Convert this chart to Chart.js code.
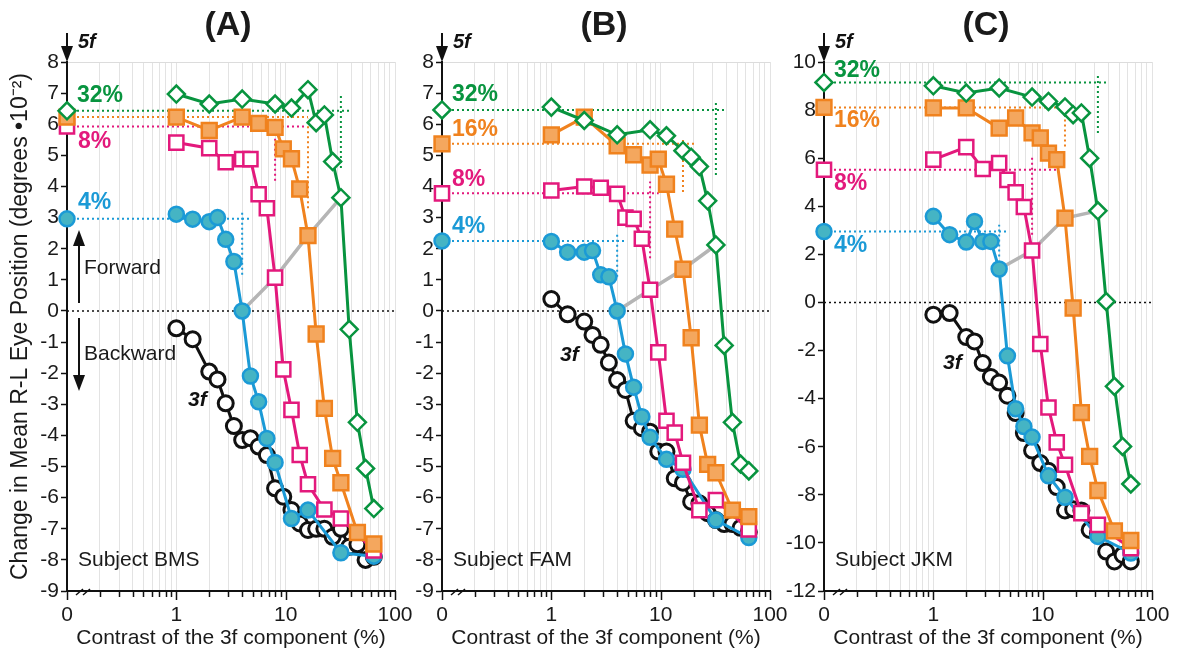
<!DOCTYPE html>
<html>
<head>
<meta charset="utf-8">
<script src="https://cdn.jsdelivr.net/npm/chart.js@4.4.1/dist/chart.umd.min.js"></script>
<style>
  body { margin: 0; background: #fff; }
  #wrap { position: relative; width: 1182px; height: 656px; }
  #wrap canvas { position: absolute; left: 0; top: 0; }
</style>
</head>
<body>
<div id="wrap">
  <canvas id="panel-a" width="1182" height="656"></canvas>
  <canvas id="panel-b" width="1182" height="656"></canvas>
  <canvas id="panel-c" width="1182" height="656"></canvas>
</div>
<script>
// contraste de la composante 3f (%) - positions communes des points
const contrast = [1, 1.41, 2, 2.38, 2.83, 3.36, 4, 4.76, 5.66, 6.73, 8, 9.51, 11.3, 13.45, 16, 19, 22.6, 26.9, 32, 38.1, 45.3, 53.8, 64];
// le "0" de l'axe est place a 0.1 sur l'echelle log
const zeroX = 0.1;
const xTickValues = [0.1, 1, 10, 100];
const xTickLabels = ["0", "1", "10", "100"];
// contraste du 5f pour chaque serie : 4%, 8%, 16%, 32%
const fiveFContrast = [4, 8, 16, 32];
const seriesNames = ["4%", "8%", "16%", "32%"];

// Sujet BMS (A)
const bms3f  = [-0.56, -0.91, -1.95, -2.2, -2.97, -3.7, -4.15, -4.09, -4.36, -4.63, -5.7, -5.97, -6.4, -6.83, -7.04, -7.0, -7.0, -7.26, -7.0, -7.58, -7.5, -8.0, -7.9];
const bms4   = [3.11, 2.95, 2.87, 3.0, 2.3, 1.59, 0, -2.09, -2.92, -4.1, -4.87, null, -6.67, null, -6.4, null, null, null, -7.77, null, null, null, -7.88];
const bms8   = [5.41, null, 5.23, null, 4.78, null, 4.88, 4.88, 3.75, 3.3, 1.07, -1.88, -3.18, -4.63, -5.57, null, -6.38, null, -6.67, null, null, null, -7.7];
const bms16  = [6.23, null, 5.8, null, null, null, 6.23, null, 6.03, null, 5.9, 5.21, 4.89, 3.92, 2.42, -0.74, -3.13, -4.74, -5.52, null, -7.12, null, -7.49];
const bms32  = [6.97, null, 6.65, null, null, null, 6.81, null, null, null, 6.65, null, 6.52, null, 7.11, 6.05, 6.3, 4.8, 3.64, -0.59, -3.58, -5.06, -6.35];
const bms5f  = [2.96, 5.93, 6.23, 6.43];
const bmsGuideEnd = [4.87, 14.8, 16, 40];
const bmsGuideV = [[1.16, 3.22], [4.18, 5.55], [3.3, 6.2], [4.59, 6.95]];

// Sujet FAM (B)
const fam3f  = [0.38, -0.11, -0.34, -0.77, -1.09, -1.66, -2.22, -2.54, -3.53, -3.77, -3.88, -4.52, -4.52, -5.38, -5.52, -6.13, -6.18, -6.5, -6.72, -6.85, -6.85, -6.97, -7.1];
const fam4   = [2.23, 1.89, 1.89, 1.94, 1.16, 1.1, 0, -1.38, -2.45, -3.4, -4.06, null, -4.77, null, -5.09, null, null, null, -6.72, null, null, null, -7.28];
const fam8   = [3.87, null, 4.0, null, 3.96, null, 3.76, 3.0, 2.96, 2.32, 0.68, -1.33, -3.53, -3.91, -4.88, null, -6.4, null, -6.08, null, null, null, -7.02];
const fam16  = [5.66, null, 6.23, null, null, null, 5.31, null, 5.02, null, 4.69, 4.88, 4.07, 2.63, 1.34, -0.86, -3.67, -4.93, -5.2, null, -6.4, null, -6.61];
const fam32  = [6.55, null, 6.12, null, null, null, 5.66, null, null, null, 5.82, null, 5.63, null, 5.15, 4.94, 4.64, 3.54, 2.12, -1.11, -3.58, -4.92, -5.14];
const fam5f  = [2.25, 3.78, 5.37, 6.46];
const famGuideEnd = [4.74, 9.6, 20.8, 38.4];
const famGuideV = [[1.1, 2.52], [1.69, 4.16], [3.82, 5.55], [4.37, 6.68]];

// Sujet JKM (C)
const jkm3f  = [-0.51, -0.44, -1.44, -1.62, -2.52, -3.1, -3.33, -3.88, -4.6, -5.43, -6.16, -6.68, -7.0, -7.68, -8.65, -8.6, -8.65, -9.46, -9.6, -10.36, -10.77, -10.5, -10.77];
const jkm4   = [3.58, 2.82, 2.51, 3.37, 2.54, 2.54, 1.39, -2.22, -4.42, -5.16, -5.6, null, -7.21, null, -8.1, null, null, null, -9.73, null, null, null, -10.42];
const jkm8   = [5.94, null, 6.46, null, 5.55, null, 5.8, 5.1, 4.58, 3.97, 2.16, -1.73, -4.37, -5.82, -6.75, null, -8.76, null, -9.25, null, null, null, -10.22];
const jkm16  = [8.09, null, 8.09, null, null, null, 7.25, null, 7.67, null, 7.05, 6.84, 6.21, 5.94, 3.51, -0.23, -4.58, -6.4, -7.82, null, -9.5, null, -9.9];
const jkm32  = [9.01, null, 8.71, null, null, null, 8.92, null, null, null, 8.54, null, 8.36, null, 8.13, 7.81, 7.88, 6.0, 3.81, 0.04, -3.49, -5.99, -7.55];
const jkm5f  = [2.95, 5.52, 8.11, 9.15];
const jkmGuideEnd = [4.63, 13.4, 16, 39.8];
const jkmGuideV = [[1.91, 3.23], [2.82, 6.07], [6.49, 8.08], [7.05, 9.47]];

const styles = [
    { line: "#1b9ad6", fill: "#45b4c4", point: "circle", radius: 7.5 },
    { line: "#e3197c", fill: "#ffffff", point: "rect", radius: 10 },
    { line: "#f0821e", fill: "#f4a75e", point: "rect", radius: 10.5 },
    { line: "#08943f", fill: "#ffffff", point: "rectRot", radius: 8.5 },
];
const FONT = "'Liberation Sans', Arial, sans-serif";
Chart.defaults.font.family = FONT;

const panels = [
    { id: "panel-a", padLeft: 0, left: 67, right: 395, yMin: -9, yMax: 8, yStep: 1, yTitle: true,
      threeF: bms3f, series: [bms4, bms8, bms16, bms32], fiveF: bms5f, guideEnd: bmsGuideEnd, guideV: bmsGuideV,
      title: "(A)", titleX: 228, subject: "Subject BMS", label3f: [188, 400],
      pct: [[78, 203], [78, 142], null, [77, 96]], arrows: true },
    { id: "panel-b", padLeft: 400, left: 442, right: 770, yMin: -9, yMax: 8, yStep: 1, yTitle: false,
      threeF: fam3f, series: [fam4, fam8, fam16, fam32], fiveF: fam5f, guideEnd: famGuideEnd, guideV: famGuideV,
      title: "(B)", titleX: 604, subject: "Subject FAM", label3f: [560, 355],
      pct: [[452, 227], [452, 180], [452, 130], [452, 95]], arrows: false },
    { id: "panel-c", padLeft: 780, left: 824, right: 1152, yMin: -12, yMax: 10, yStep: 2, yTitle: false,
      threeF: jkm3f, series: [jkm4, jkm8, jkm16, jkm32], fiveF: jkm5f, guideEnd: jkmGuideEnd, guideV: jkmGuideV,
      title: "(C)", titleX: 986, subject: "Subject JKM", label3f: [943, 363],
      pct: [[834, 246], [834, 184], [834, 121], [834, 71]], arrows: false },
];

// lignes de grille verticales : 0.1..0.9, 1..9, 10..90, 100
const xGridValues = [];
[0.1, 1, 10].forEach(d => { for (let k = 1; k <= 9; k++) xGridValues.push(+(k * d).toFixed(2)); });
xGridValues.push(100);

function toPoints(values) {
    return contrast.map((c, i) => ({ x: c, y: values[i] })).filter(p => p.y !== null);
}

function valueAt(values, c) {
    return values[contrast.indexOf(c)];
}

function arrow(ctx, x, y1, y2) {
    // fleche verticale de y1 vers y2 (pointe en y2)
    const dir = y2 > y1 ? 1 : -1;
    ctx.beginPath();
    ctx.moveTo(x, y1);
    ctx.lineTo(x, y2 - dir * 14);
    ctx.lineWidth = 2;
    ctx.strokeStyle = "#111";
    ctx.stroke();
    ctx.beginPath();
    ctx.moveTo(x - 6, y2 - dir * 16);
    ctx.lineTo(x + 6, y2 - dir * 16);
    ctx.lineTo(x, y2);
    ctx.closePath();
    ctx.fillStyle = "#111";
    ctx.fill();
}

const decorations = {
    id: "decorations",
    afterDraw(chart, args, opts) {
        const p = opts.panel;
        const ctx = chart.ctx;
        const xs = chart.scales.x;
        const area = chart.chartArea;
        ctx.save();

        // graduations de l'axe x
        ctx.strokeStyle = "#111";
        ctx.lineWidth = 1.5;
        xGridValues.forEach(v => {
            const major = xTickValues.includes(v);
            const px = Math.round(xs.getPixelForValue(v)) + 0.5;
            ctx.beginPath();
            ctx.moveTo(px, area.bottom);
            ctx.lineTo(px, area.bottom + (major ? 9 : 6));
            ctx.stroke();
        });

        // coupure de l'axe
        ctx.lineWidth = 1.5;
        [9, 16].forEach(dx => {
            ctx.beginPath();
            ctx.moveTo(area.left + dx, area.bottom + 4);
            ctx.lineTo(area.left + dx + 7, area.bottom - 2);
            ctx.stroke();
        });

        // titre du panneau
        ctx.fillStyle = "#1a1a1a";
        ctx.textBaseline = "middle";
        ctx.textAlign = "center";
        ctx.font = "bold 34px " + FONT;
        ctx.fillText(p.title, p.titleX, 26);

        // fleche 5f
        arrow(ctx, area.left, 33, 62);
        ctx.textAlign = "left";
        ctx.fillStyle = "#111";
        ctx.font = "italic bold 20px " + FONT;
        ctx.fillText("5f", area.left + 11, 42);

        // etiquettes des pourcentages
        ctx.font = "bold 23px " + FONT;
        p.pct.forEach((pos, k) => {
            if (!pos) return;
            ctx.fillStyle = styles[k].line;
            ctx.fillText(seriesNames[k], pos[0], pos[1]);
        });

        ctx.fillStyle = "#111";
        ctx.font = "italic bold 21px " + FONT;
        ctx.fillText("3f", p.label3f[0], p.label3f[1]);

        ctx.font = "21px " + FONT;
        ctx.fillStyle = "#1a1a1a";
        ctx.fillText(p.subject, area.left + 11, 560);

        if (p.arrows) {
            arrow(ctx, area.left + 12, 303, 230);
            arrow(ctx, area.left + 12, 318, 391);
            ctx.font = "21px " + FONT;
            ctx.fillStyle = "#1a1a1a";
            ctx.fillText("Forward", area.left + 17, 268);
            ctx.fillText("Backward", area.left + 17, 354);
        }
        ctx.restore();
    }
};

panels.forEach(p => {
    const datasets = [];
    const curves = p.series;
    // courbes principales (la premiere listee est dessinee au-dessus)
    for (let k = 3; k >= 0; k--) {
        const s = styles[k];
        datasets.push({
            data: toPoints(curves[k]),
            borderColor: s.line, borderWidth: 3,
            pointStyle: s.point, pointRadius: s.radius,
            pointBackgroundColor: s.fill, pointBorderColor: s.line, pointBorderWidth: 2.5,
        });
    }
    datasets.push({
        data: toPoints(p.threeF),
        borderColor: "#111", borderWidth: 3,
        pointStyle: "circle", pointRadius: 7.5,
        pointBackgroundColor: "#fff", pointBorderColor: "#111", pointBorderWidth: 3,
    });
    // reponses au 5f seul (contraste 3f = 0)
    for (let k = 3; k >= 0; k--) {
        const s = styles[k];
        datasets.push({
            data: [{ x: zeroX, y: p.fiveF[k] }], showLine: false, clip: false,
            pointStyle: s.point, pointRadius: s.radius,
            pointBackgroundColor: s.fill, pointBorderColor: s.line, pointBorderWidth: 2.5,
        });
    }
    // ligne grise reliant les points ou 3f = 5f
    datasets.push({
        data: fiveFContrast.map((c, k) => ({ x: c, y: valueAt(curves[k], c) })),
        borderColor: "#b5b5b5", borderWidth: 3.5, pointRadius: 0,
    });
    // reperes en pointilles
    for (let k = 0; k < 4; k++) {
        const s = styles[k];
        datasets.push({
            data: [{ x: zeroX, y: p.fiveF[k] }, { x: p.guideEnd[k], y: p.fiveF[k] }],
            borderColor: s.line, borderWidth: 2, borderDash: [2, 3], pointRadius: 0,
        });
        datasets.push({
            data: [{ x: fiveFContrast[k], y: p.guideV[k][0] }, { x: fiveFContrast[k], y: p.guideV[k][1] }],
            borderColor: s.line, borderWidth: 2, borderDash: [2, 3], pointRadius: 0,
        });
    }
    datasets.push({
        data: [{ x: zeroX, y: 0 }, { x: 100, y: 0 }],
        borderColor: "#111", borderWidth: 1.5, borderDash: [2, 3], pointRadius: 0,
    });

    new Chart(document.getElementById(p.id), {
        type: "line",
        data: { datasets },
        plugins: [decorations],
        options: {
            responsive: false,
            animation: false,
            layout: { padding: { left: p.padLeft, right: 1182 - p.right, top: 62, bottom: 0 } },
            plugins: {
                legend: { display: false },
                tooltip: { enabled: false },
                decorations: { panel: p },
            },
            elements: { line: { tension: 0 } },
            scales: {
                x: {
                    type: "logarithmic",
                    min: 0.1,
                    max: 100,
                    afterBuildTicks: s => { s.ticks = xGridValues.map(v => ({ value: v })); },
                    afterFit: s => { s.height = 65; },
                    ticks: {
                        autoSkip: false, maxRotation: 0, padding: 12,
                        color: "#1a1a1a", font: { size: 21 },
                        callback: v => {
                            const i = xTickValues.findIndex(t => Math.abs(t - v) < 1e-9);
                            return i >= 0 ? xTickLabels[i] : "";
                        },
                    },
                    grid: { color: "#e3e3e3", lineWidth: 1, drawTicks: false },
                    border: { color: "#111", width: 2 },
                    title: {
                        display: true, text: "Contrast of the 3f component (%)",
                        color: "#1a1a1a", font: { size: 21 }, padding: { top: 0, bottom: 5 },
                    },
                },
                y: {
                    min: p.yMin,
                    max: p.yMax,
                    afterFit: s => { s.width = p.left - p.padLeft; },
                    ticks: { stepSize: p.yStep, padding: 2, color: "#1a1a1a", font: { size: 21 } },
                    grid: {
                        color: c => (c.tick && c.tick.value === p.yMax ? "#dcdcdc" : "rgba(0,0,0,0)"),
                        tickColor: "#111", tickLength: 6, tickWidth: 1.5,
                    },
                    border: { color: "#111", width: 2 },
                    title: {
                        display: p.yTitle, text: "Change in Mean R-L Eye Position (degrees \u202210\u207B\u00B2)",
                        color: "#1a1a1a", font: { size: 23 }, padding: { top: 7 },
                    },
                },
            },
        },
    });
});
</script>
</body>
</html>
